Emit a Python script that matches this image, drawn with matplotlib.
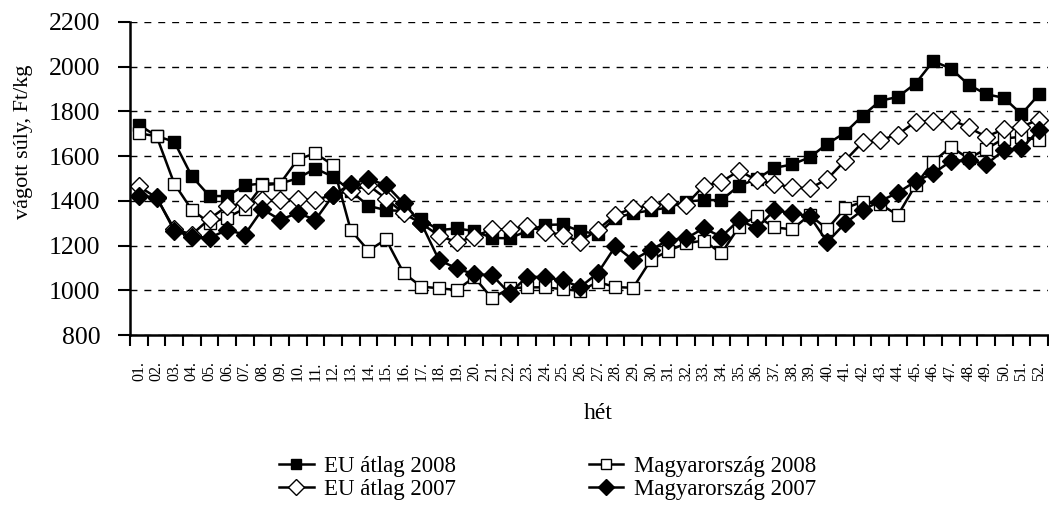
import numpy as np
import matplotlib.pyplot as plt

plt.rcParams['font.family'] = ['Liberation Serif', 'DejaVu Serif']

weeks = ['%02d.' % i for i in range(1, 53)]

eu_2008 = [1740, 1690, 1665, 1510, 1422, 1422, 1470, 1478, 1478, 1501,
           1545, 1508, 1445, 1378, 1359, 1355, 1318, 1270, 1277, 1266,
           1235, 1233, 1266, 1293, 1295, 1265, 1252, 1325, 1345, 1358,
           1371, 1397, 1404, 1404, 1468, 1498, 1548, 1563, 1595, 1655,
           1705, 1781, 1848, 1865, 1925, 2025, 1992, 1920, 1877, 1861,
           1788, 1877]

hu_2008 = [1702, 1690, 1478, 1360, 1302, 1326, 1366, 1470, 1478, 1586,
           1613, 1560, 1270, 1178, 1228, 1078, 1017, 1010, 1002, 1059,
           965, 1010, 1014, 1014, 1006, 998, 1038, 1015, 1012, 1136,
           1177, 1211, 1223, 1166, 1285, 1333, 1282, 1273, 1337, 1275,
           1367, 1397, 1385, 1337, 1471, 1575, 1642, 1590, 1632, 1679,
           1687, 1672]

eu_2007 = [1465, 1415, 1275, 1250, 1320, 1377, 1390, 1404, 1404, 1407,
           1404, 1428, 1445, 1470, 1411, 1344, 1300, 1245, 1216, 1240,
           1274, 1273, 1288, 1263, 1248, 1218, 1272, 1338, 1368, 1380,
           1395, 1384, 1467, 1486, 1535, 1493, 1476, 1461, 1456, 1498,
           1580, 1662, 1672, 1697, 1754, 1757, 1764, 1729, 1687, 1721,
           1732, 1764]

hu_2007 = [1420, 1418, 1268, 1240, 1236, 1270, 1250, 1363, 1316, 1346,
           1316, 1425, 1476, 1498, 1471, 1389, 1300, 1136, 1099, 1072,
           1069, 987, 1062, 1059, 1046, 1015, 1078, 1198, 1136, 1181,
           1226, 1233, 1278, 1240, 1315, 1278, 1359, 1345, 1333, 1216,
           1300, 1359, 1400, 1437, 1488, 1523, 1578, 1583, 1563, 1627,
           1635, 1717]

fig = plt.figure(figsize=(10.49, 5.11), dpi=100)
ax = fig.add_axes([0.124, 0.344, 0.875, 0.613])

x = np.arange(len(weeks))
lw = 1.8
ms = 9
ax.plot(x, eu_2008, color='black', lw=lw, marker='s', ms=ms, mfc='black', mec='black', mew=1, label='EU átlag 2008')
ax.plot(x, hu_2008, color='black', lw=lw, marker='s', ms=ms, mfc='white', mec='black', mew=1, label='Magyarország 2008')
ax.plot(x, eu_2007, color='black', lw=lw, marker='D', ms=ms, mfc='white', mec='black', mew=1, label='EU átlag 2007')
ax.plot(x, hu_2007, color='black', lw=lw, marker='D', ms=ms, mfc='black', mec='black', mew=1, label='Magyarország 2007')

ax.set_xlim(-0.5, len(weeks) - 0.5)
ax.set_ylim(800, 2200)
ax.set_yticks(np.arange(800, 2201, 200))
ax.yaxis.grid(True, linestyle=(0, (5, 5)), color='black', lw=1)
ax.set_axisbelow(True)

# ticks between categories, labels at centres
ax.set_xticks(np.arange(-0.5, len(weeks), 1.0))
ax.set_xticklabels([])
ax.set_xticks(x, minor=True)
ax.set_xticklabels(weeks, minor=True, rotation=90, fontsize=11.5)
ax.tick_params(axis='x', which='major', length=8, width=1.5, direction='out')
ax.tick_params(axis='x', which='minor', length=0, pad=19)
ax.tick_params(axis='y', length=8.5, width=1.5, labelsize=18.5, pad=13)

for s in ['top', 'right']:
    ax.spines[s].set_visible(False)
for s in ['left', 'bottom']:
    ax.spines[s].set_linewidth(1.8)

ax.set_ylabel('vágott súly, Ft/kg', fontsize=16)
ax.yaxis.set_label_coords(-0.106, 0.617)
ax.set_xlabel('hét', fontsize=17, labelpad=14)
ax.xaxis.set_label_coords(0.51, -0.215)

h, l = ax.get_legend_handles_labels()
order = [0, 2, 1, 3]
fig.legend([h[i] for i in order], [l[i] for i in order], ncol=2, loc='center',
           bbox_to_anchor=(0.522, 0.065), frameon=False, fontsize=16.5,
           columnspacing=5.8, handlelength=1.5, handletextpad=0.45, labelspacing=0.1,
           markerscale=0.85)

fig.savefig('out.png', dpi=100)
